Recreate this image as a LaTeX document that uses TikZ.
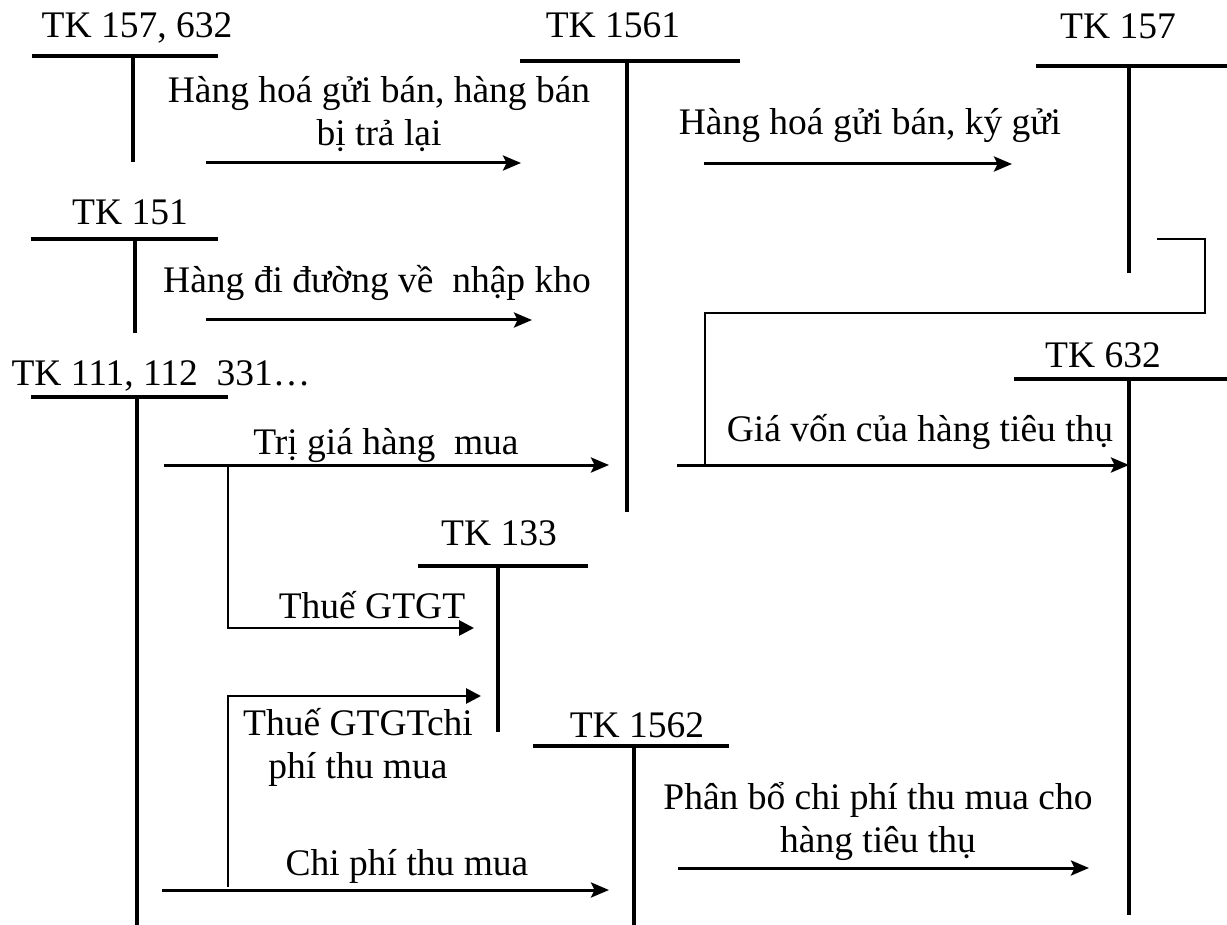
\documentclass[tikz,border=0pt]{standalone}
\usepackage{fontspec}
\setmainfont{Liberation Serif}
\usetikzlibrary{arrows.meta}
\begin{document}
\begin{tikzpicture}[x=1pt,y=-1pt,
  acct/.style={line width=3.2pt},
  flow/.style={line width=3pt,-{Stealth[length=18pt,width=15pt,inset=3.5pt]}},
  tflow/.style={line width=2.8pt,-{Triangle[length=15pt,width=15pt]}},
  thinlink/.style={line width=2.2pt},
  lbl/.style={font=\fontsize{37.5}{43}\selectfont, inner sep=0pt, anchor=base, align=center},
]
\useasboundingbox (0,0) rectangle (1227,925);

% ---- T accounts: left end, right end, top of stem, bottom of stem
\coordinate (A1) at (32,56);   \coordinate (A2) at (218,56);  \coordinate (At) at (133,56);  \coordinate (Ab) at (133,162);
\coordinate (B1) at (520,61);  \coordinate (B2) at (740,61);  \coordinate (Bt) at (627,61);  \coordinate (Bb) at (627,512);
\coordinate (C1) at (1036,66); \coordinate (C2) at (1227,66); \coordinate (Ct) at (1129,66); \coordinate (Cb) at (1129,273);
\coordinate (D1) at (31,239);  \coordinate (D2) at (218,239); \coordinate (Dt) at (135,239); \coordinate (Db) at (135,333);
\coordinate (E1) at (1014,379);\coordinate (E2) at (1227,379);\coordinate (Et) at (1129,379);\coordinate (Eb) at (1129,915);
\coordinate (F1) at (31,397);  \coordinate (F2) at (228,397); \coordinate (Ft) at (137,397); \coordinate (Fb) at (137,925);
\coordinate (G1) at (418,566); \coordinate (G2) at (588,566); \coordinate (Gt) at (498,566); \coordinate (Gb) at (498,732);
\coordinate (H1) at (533,746); \coordinate (H2) at (729,746); \coordinate (Ht) at (634,746); \coordinate (Hb) at (634,925);

\foreach \t in {A,B,C,D,E,F,G,H}{
  \draw[acct] (\t1) -- (\t2);
  \draw[acct] (\t t) -- (\t b);
}

% ---- account titles
\node[lbl] (tA) at (137,38)  {TK 157, 632};
\node[lbl] (tB) at (613,38)  {TK 1561};
\node[lbl] (tC) at (1118,39) {TK 157};
\node[lbl] (tD) at (130,225) {TK 151};
\node[lbl] (tE) at (1103,368) {TK 632};
\node[lbl] (tF) at (161,385) {TK 111, 112~ 331…};
\node[lbl] (tG) at (499,545) {TK 133};
\node[lbl] (tH) at (637,737) {TK 1562};

% ---- arrow end points
\coordinate (a1s) at (206,163);  \coordinate (a1e) at (521,163);
\coordinate (a2s) at (704,164);  \coordinate (a2e) at (1012,164);
\coordinate (a3s) at (206,320);  \coordinate (a3e) at (532,320);
\coordinate (k1) at (1157,239);  \coordinate (k2) at (1205,239);
\coordinate (k3) at (1205,313);  \coordinate (k4) at (705,313);  \coordinate (k5) at (705,465);
\coordinate (a5s) at (677,465);  \coordinate (a5e) at (1129,465);
\coordinate (a6s) at (164,465);  \coordinate (a6e) at (609,465);
\coordinate (b7) at (228,465);   \coordinate (c7) at (228,628);  \coordinate (a7e) at (474,628);
\coordinate (b8) at (228,887);   \coordinate (c8) at (228,696);  \coordinate (a8e) at (481,696);
\coordinate (a9s) at (162,890);  \coordinate (a9e) at (609,890);
\coordinate (a10s) at (678,868); \coordinate (a10e) at (1089,868);

\draw[flow] (a1s) -- (a1e);
\draw[flow] (a2s) -- (a2e);
\draw[flow] (a3s) -- (a3e);
\draw[thinlink] (k1) -- (k2) -- (k3) -- (k4) -- (k5);
\draw[flow] (a5s) -- (a5e);
\draw[flow] (a6s) -- (a6e);
\draw[tflow] (b7) -- (c7) -- (a7e);
\draw[tflow] (b8) -- (c8) -- (a8e);
\draw[flow] (a9s) -- (a9e);
\draw[flow] (a10s) -- (a10e);

% ---- arrow labels (multi-line nodes: base = last line)
\node[lbl] (l1) at (379,146) {Hàng hoá gửi bán, hàng bán\\bị trả lại};
\node[lbl] (l2) at (870,135) {Hàng hoá gửi bán, ký gửi};
\node[lbl] (l3) at (377,293) {Hàng đi đường về~ nhập kho};
\node[lbl] (l5) at (920,442) {Giá vốn của hàng tiêu thụ};
\node[lbl] (l6) at (386,454) {Trị giá hàng~ mua};
\node[lbl] (l7) at (372,618) {Thuế GTGT};
\node[lbl] (l8) at (358,778) {Thuế GTGTchi\\phí thu mua};
\node[lbl] (l9) at (407,875) {Chi phí thu mua};
\node[lbl] (l10) at (878,852) {Phân bổ chi phí thu mua cho\\hàng tiêu thụ};
\end{tikzpicture}
\end{document}
